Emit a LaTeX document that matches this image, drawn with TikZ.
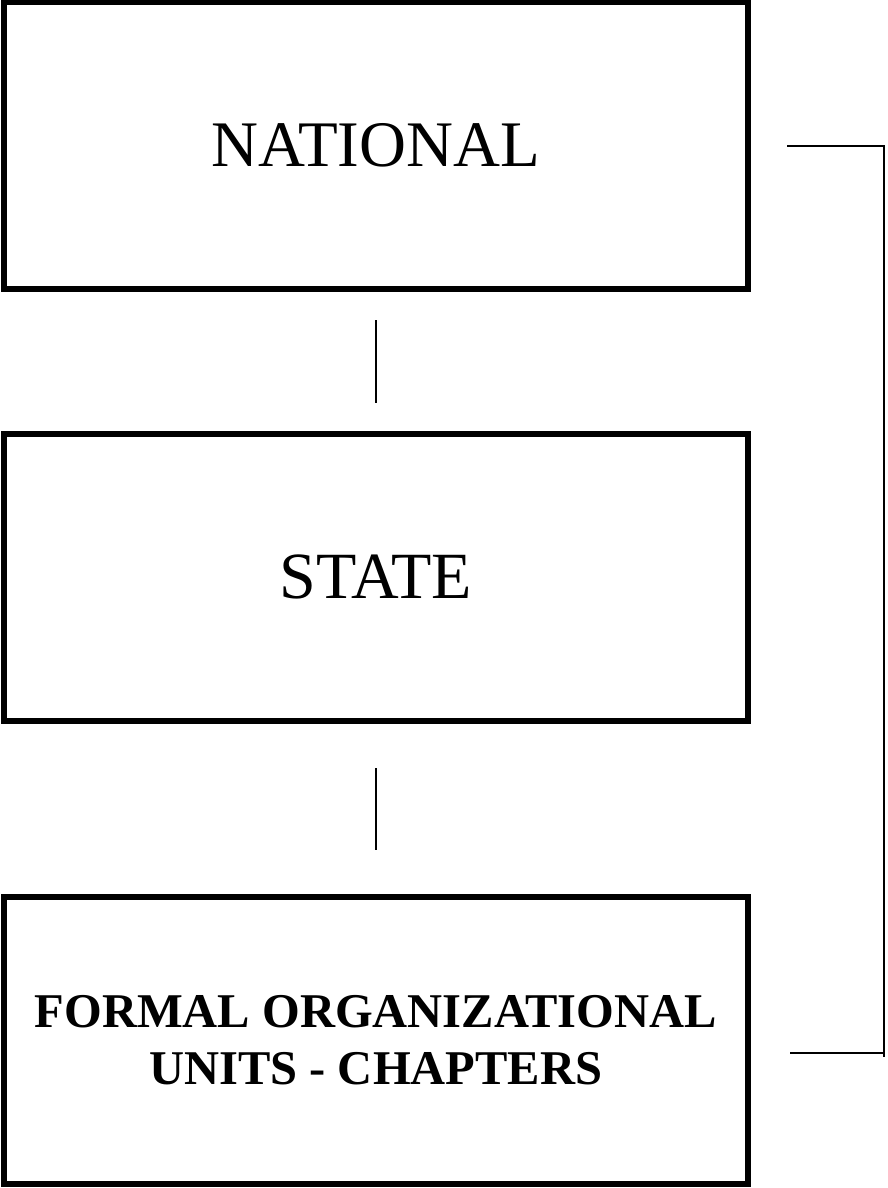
\documentclass[tikz,border=0pt]{standalone}
\usepackage{fontspec}
\setmainfont{Liberation Serif}
\begin{document}
\begin{tikzpicture}[x=1pt,y=-1pt,
  levelbox/.style={draw=black,line width=6pt,rectangle,minimum width=744.5pt,inner sep=0pt,align=center},
  bigtext/.style={font=\fontsize{65}{70}\selectfont},
  statetext/.style={font=\fontsize{66}{70}\selectfont},
  boldtext/.style={font=\fontsize{48.5}{57}\selectfont\bfseries},
  link/.style={draw=black,line width=1.5pt},
  bracket/.style={draw=black,line width=2pt}]
\useasboundingbox (0,0) rectangle (887,1188);
\node[levelbox,minimum height=287pt,bigtext] (b1) at (375.75,145.5) {NATIONAL};
\node[levelbox,minimum height=287.5pt,statetext] (b2) at (375.75,577.25) {STATE};
\node[levelbox,minimum height=287pt,boldtext] (b3) at (375.75,1040.5) {FORMAL ORGANIZATIONAL\\UNITS - CHAPTERS};
\draw[link,shorten <=28pt,shorten >=28pt] (b1.south) -- (b2.north);
\draw[link,shorten <=44pt,shorten >=44pt] (b2.south) -- (b3.north);
\coordinate (bt) at ([xshift=36pt]b1.east);
\coordinate (tr) at (884,145.5);
\coordinate (br) at (884,1053);
\coordinate (bend) at (884,1057);
\coordinate (bb) at (790,1053);
\draw[bracket] (bt) -- (tr) -- (bend);
\draw[bracket] (br) -- (bb);
\end{tikzpicture}
\end{document}
